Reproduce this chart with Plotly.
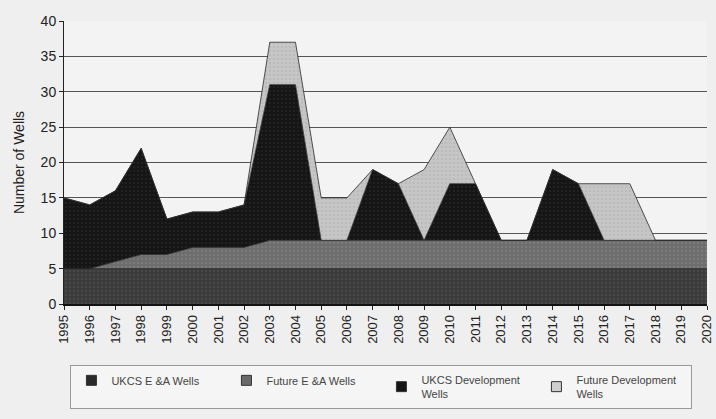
import plotly.graph_objects as go

years = list(range(1995, 2021))
ukcs_ea = [5] * 26
future_ea = [0, 0, 1, 2, 2, 3, 3, 3, 4, 4, 4, 4, 4, 4, 4, 4, 4, 4, 4, 4, 4, 4, 4, 4, 4, 4]
ukcs_dev = [10, 9, 10, 15, 5, 5, 5, 6, 22, 22, 0, 0, 10, 8, 0, 8, 8, 0, 0, 10, 8, 0, 0, 0, 0, 0]
future_dev = [0, 0, 0, 0, 0, 0, 0, 0, 6, 6, 6, 6, 0, 0, 10, 8, 0, 0, 0, 0, 0, 8, 8, 0, 0, 0]

series_names = ["UKCS E &A Wells", "Future E &A Wells",
                "UKCS Development<br>Wells", "Future Development<br>Wells"]
series_values = [ukcs_ea, future_ea, ukcs_dev, future_dev]
fill_bg = ["#3a3a3a", "#6c6c6c", "#141414", "#c6c6c6"]
fill_fg = ["#555555", "#8a8a8a", "#2e2e2e", "#b0b0b0"]
swatch = ["#2a2a2a", "#6a6a6a", "#141414", "#d0d0d0"]

fig = go.Figure()
for name, vals, bg, fg in zip(series_names, series_values, fill_bg, fill_fg):
    fig.add_trace(go.Scatter(
        x=years, y=vals, stackgroup="one", mode="lines",
        line=dict(color="#2a2a2a", width=0.8),
        fillcolor=bg,
        fillpattern=dict(shape=".", fgcolor=fg, bgcolor=bg, size=4, solidity=0.3),
        showlegend=False, hoverinfo="skip"))

for name, c in zip(series_names, swatch):
    fig.add_trace(go.Scatter(
        x=[None], y=[None], mode="markers", name=name,
        marker=dict(symbol="square", size=10, color=c,
                    line=dict(color="#333", width=1))))

fig.update_layout(
    width=716, height=419,
    margin=dict(l=64, r=9, t=21, b=115, autoexpand=False),
    paper_bgcolor="#efefef", plot_bgcolor="#f3f3f3",
    font=dict(family="Liberation Sans, Arial, sans-serif", color="#222"),
    legend=dict(orientation="h", traceorder="normal",
                x=0.01, xanchor="left", y=-0.215, yanchor="top",
                entrywidth=110, entrywidthmode="pixels",
                bordercolor="#999", borderwidth=1, bgcolor="#f5f5f5",
                font=dict(size=11, color="#444"), itemwidth=30),
    xaxis=dict(range=[1995, 2020], tickmode="array", tickvals=years,
               ticktext=[str(y) for y in years], tickangle=-90,
               tickfont=dict(size=13, color="#222"), automargin=False,
               ticks="outside", ticklen=4, tickcolor="#222",
               showline=True, linecolor="#111", linewidth=1.5,
               showgrid=False, zeroline=False),
    yaxis=dict(range=[0, 40], dtick=5, tickfont=dict(size=14, color="#222"),
               ticks="outside", ticklen=4, tickcolor="#222", automargin=False,
               showline=True, linecolor="#222", linewidth=1,
               showgrid=True, gridcolor="#555", gridwidth=1, zeroline=False,
               title=dict(text="Number of Wells", font=dict(size=14, color="#222"),
                          standoff=12)),
)

fig.write_html("out.html", config={"displayModeBar": False},
               post_script="document.body.style.margin='0';document.body.style.background='#efefef';")
